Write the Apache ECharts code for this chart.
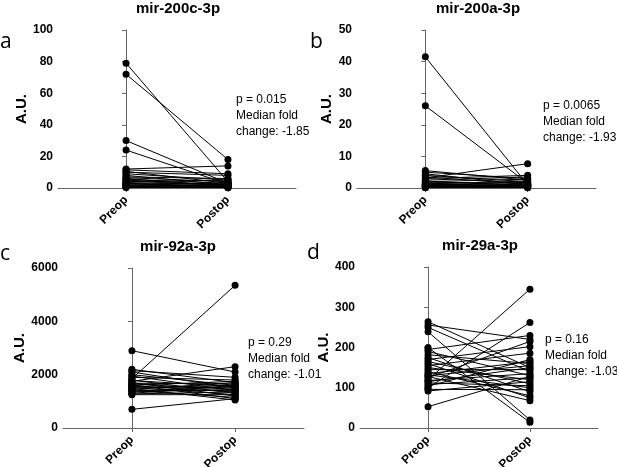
<!DOCTYPE html>
<html>
<head>
<meta charset="utf-8">
<script src="https://cdn.jsdelivr.net/npm/echarts@6/dist/echarts.min.js"></script>
<style>
  html, body { margin: 0; padding: 0; background: #fff; }
  #main { width: 617px; height: 467px; }
</style>
</head>
<body>
<div id="main"></div>
<script>
// paired samples, Preop -> Postop
var categories = ['Preop', 'Postop'];
var titles = ['mir-200c-3p', 'mir-200a-3p', 'mir-92a-3p', 'mir-29a-3p'];
var letters = ['a', 'b', 'c', 'd'];
var pValues = ['0.015', '0.0065', '0.29', '0.16'];
var foldChanges = ['-1.85', '-1.93', '-1.01', '-1.03'];

// y axis ticks
var yMax = [100, 50, 6000, 400];
var yStep = [20, 10, 2000, 100];

var aPre = [79, 72, 30, 24, 12, 11.5, 10.5, 10, 9, 8, 7, 6.5, 6, 5.5, 5, 4.5, 4, 3.5, 3, 2.8, 2.5, 2, 1.8, 1.5, 1.2, 1, 0.8, 0.5, 0.3];
var aPost = [4, 18, 3, 2.5, 14, 9, 3, 8, 5, 2, 6, 4, 1, 3, 2, 1.5, 5, 2, 1, 0.5, 3, 1, 2, 0.8, 1.2, 0.3, 0.5, 0.2, 0.4];

var bPre = [41.5, 26, 5.5, 5, 4.5, 4, 3.5, 3.2, 3, 2.5, 2.2, 2, 1.8, 1.5, 1.3, 1.2, 1, 0.9, 0.8, 0.6, 0.5, 0.4, 0.3, 0.2, 0.15, 0.1, 0.5, 0.7, 1.1];
var bPost = [1, 1.5, 2.5, 3, 1, 2, 1.2, 7.7, 4, 3.5, 0.8, 2.8, 1.5, 0.5, 2.2, 0.6, 1.8, 0.4, 1, 0.3, 0.9, 0.2, 0.7, 0.5, 0.1, 0.3, 1.3, 0.6, 0.8];

var cPre = [2900, 2200, 2150, 2100, 2000, 1950, 1900, 1850, 1800, 1780, 1750, 1700, 1680, 1650, 1620, 1600, 1580, 1550, 1520, 1500, 1480, 1450, 1420, 1400, 1380, 1350, 1300, 1280, 1250, 700];
var cPost = [2100, 1700, 1900, 1500, 1600, 1400, 1800, 5350, 1300, 1550, 2300, 1200, 1650, 1450, 1100, 1750, 1350, 1500, 1250, 1600, 1050, 1700, 1400, 1150, 1550, 1450, 1600, 1350, 1250, 1100];

var dPre = [264, 256, 250, 239, 200, 195, 190, 182, 175, 170, 165, 160, 155, 150, 145, 140, 135, 132, 130, 128, 125, 120, 118, 115, 112, 108, 104, 100, 96, 92, 53];
var dPost = [150, 220, 140, 20, 14, 230, 130, 160, 90, 202, 110, 75, 186, 120, 145, 80, 165, 100, 155, 68, 215, 345, 135, 150, 105, 125, 170, 262, 95, 115, 128];

var pre = [aPre, bPre, cPre, dPre];
var post = [aPost, bPost, cPost, dPost];

var font = 'Liberation Sans, Arial, sans-serif';

// panel boxes: left, top, width, height
var grids = [
  { left: 58, top: 30, width: 238, height: 158, outerBoundsMode: 'none' },
  { left: 357, top: 30, width: 239, height: 158, outerBoundsMode: 'none' },
  { left: 63, top: 268, width: 241, height: 160, outerBoundsMode: 'none' },
  { left: 360, top: 267, width: 238, height: 161, outerBoundsMode: 'none' }
];
var nameGaps = [24, 17, 30, 22];
// where the title / letter / stats sit
var titlePos = [[178, 9], [478, 9], [178, 247], [480, 246]];
var letterPos = [[0, 42], [310, 42], [0, 254], [307, 253]];
var statPos = [[236, 92], [543, 98], [248, 335], [545, 332]];

var xAxes = [], yAxes = [], series = [], graphics = [];

for (let p = 0; p < 4; p++) {
  xAxes.push({
    type: 'value',
    gridIndex: p,
    min: -0.668,
    max: 1.668,
    splitLine: { show: false },
    axisLine: { lineStyle: { color: '#666', width: 1 } },
    axisTick: { show: true, customValues: [0, 1], length: 4, lineStyle: { color: '#666' } },
    axisLabel: {
      customValues: [0, 1],
      rotate: 45,
      margin: 10,
      color: '#000',
      fontWeight: 'bold',
      fontSize: 12,
      fontFamily: font,
      formatter: function (v) { return categories[Math.round(v)]; }
    }
  });
  yAxes.push({
    type: 'value',
    gridIndex: p,
    min: 0,
    max: yMax[p],
    interval: yStep[p],
    name: 'A.U.',
    nameLocation: 'middle',
    nameGap: nameGaps[p],
    nameTextStyle: { color: '#000', fontWeight: 'bold', fontSize: 15, fontFamily: font },
    splitLine: { show: false },
    axisLine: { show: true, lineStyle: { color: '#666', width: 1 } },
    axisTick: { show: true, length: 4, lineStyle: { color: '#666' } },
    axisLabel: {
      color: '#000', fontWeight: 'bold', fontSize: 12, fontFamily: font, margin: 5,
      formatter: function (v) { return String(v); }
    }
  });
  for (let i = 0; i < pre[p].length; i++) {
    series.push({
      type: 'line',
      xAxisIndex: p,
      yAxisIndex: p,
      data: [[0, pre[p][i]], [1, post[p][i]]],
      symbol: 'circle',
      symbolSize: 7,
      itemStyle: { color: '#000' },
      lineStyle: { color: '#000', width: 1 },
      silent: true,
      animation: false
    });
  }
  graphics.push({
    type: 'text', x: titlePos[p][0], y: titlePos[p][1],
    style: { text: titles[p], fill: '#000', font: 'bold 15px ' + font, textAlign: 'center', textVerticalAlign: 'middle' }
  });
  graphics.push({
    type: 'text', x: letterPos[p][0], y: letterPos[p][1],
    style: { text: letters[p], fill: '#000', font: '21px Open Sans, sans-serif', textVerticalAlign: 'middle' }
  });
  graphics.push({
    type: 'text', x: statPos[p][0], y: statPos[p][1],
    style: {
      text: 'p = ' + pValues[p] + '\nMedian fold\nchange: ' + foldChanges[p],
      fill: '#000', font: '12px ' + font, lineHeight: 16, textVerticalAlign: 'top'
    }
  });
}

var chart = echarts.init(document.getElementById('main'));
chart.setOption({
  animation: false,
  grid: grids,
  xAxis: xAxes,
  yAxis: yAxes,
  series: series,
  graphic: graphics
});
</script>
</body>
</html>
